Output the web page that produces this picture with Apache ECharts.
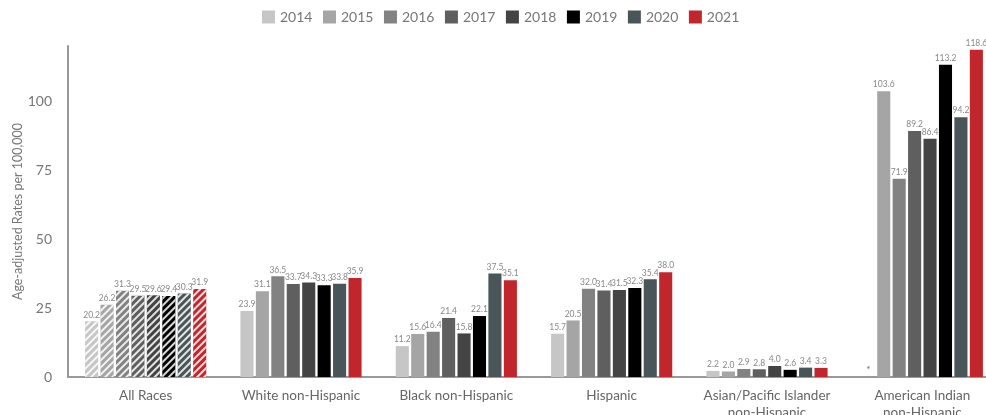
<!DOCTYPE html>
<html><head><meta charset="utf-8">
<script src="https://cdn.jsdelivr.net/npm/echarts@6/dist/echarts.min.js"></script>
<style>html,body{margin:0;padding:0;background:#fff}#c{width:986px;height:415px}</style>
</head><body><div id="c"></div>
<script>
const categories = ['All Races','White non-Hispanic','Black non-Hispanic','Hispanic','Asian/Pacific Islander\nnon-Hispanic','American Indian\nnon-Hispanic'];
const years = ['2014','2015','2016','2017','2018','2019','2020','2021'];
const v2014 = [20.2, 23.9, 11.2, 15.7, 2.2, null];
const v2015 = [26.2, 31.1, 15.6, 20.5, 2.0, 103.6];
const v2016 = [31.3, 36.5, 16.4, 32.0, 2.9, 71.9];
const v2017 = [29.5, 33.7, 21.4, 31.4, 2.8, 89.2];
const v2018 = [29.6, 34.3, 15.8, 31.5, 4.0, 86.4];
const v2019 = [29.4, 33.3, 22.1, 32.3, 2.6, 113.2];
const v2020 = [30.3, 33.8, 37.5, 35.4, 3.4, 94.2];
const v2021 = [31.9, 35.9, 35.1, 38.0, 3.3, 118.6];
const yTicks = [0, 25, 50, 75, 100];

const values = [v2014, v2015, v2016, v2017, v2018, v2019, v2020, v2021];
const colors = ['#c6c6c6','#a5a5a5','#828282','#5f5f5f','#444444','#000000','#4a5559','#c0262c'];
const font = 'Lato, "Open Sans", sans-serif';

const series = years.map((y, i) => ({
  name: y,
  type: 'bar',
  barGap: '18%',
  barCategoryGap: '22%',
  itemStyle: { color: colors[i] },
  label: {
    show: true, position: 'top', distance: 2,
    color: '#888', fontSize: 8.5, fontFamily: font,
    formatter: p => (p.value == null || p.value === 0) ? '*' : p.value.toFixed(1)
  },
  data: values[i].map((v, j) => {
    if (v == null) return { value: 0, label: { fontSize: 10, color: '#666' } };
    if (j === 0) return {
      value: v,
      itemStyle: {
        decal: {
          symbol: 'rect', color: 'rgba(255,255,255,0.85)',
          dashArrayX: [1, 0], dashArrayY: [1.6, 2.4], rotation: -Math.PI / 4
        }
      }
    };
    return v;
  })
}));

const chart = echarts.init(document.getElementById('c'));
chart.setOption({
  animation: false,
  aria: { enabled: false, decal: { show: true } },
  legend: {
    top: 5, left: 257, itemWidth: 13, itemHeight: 13, itemGap: 10.5,
    icon: 'rect',
    textStyle: { color: '#777', fontSize: 14, fontFamily: font }
  },
  grid: { left: 68, right: -14, top: 46, bottom: 38, outerBoundsMode: 'none', containLabel: false },
  xAxis: {
    type: 'category', data: categories,
    axisLine: { lineStyle: { color: '#999', width: 2 } },
    axisTick: { show: false },
    axisLabel: { color: '#666', fontSize: 13.5, fontFamily: font, margin: 10, lineHeight: 17, interval: 0 }
  },
  yAxis: {
    type: 'value', min: 0, max: 120, interval: 25,
    name: 'Age-adjusted Rates per 100,000', nameLocation: 'middle', nameGap: 44,
    nameMoveOverlap: false,
    nameTextStyle: { color: '#777', fontSize: 12.5, fontFamily: font },
    axisLine: { show: true, lineStyle: { color: '#999', width: 2 } },
    axisTick: { show: false },
    splitLine: { show: false },
    axisLabel: {
      color: '#777', fontSize: 14, fontFamily: font, margin: 16, showMaxLabel: false,
      formatter: v => yTicks.includes(v) ? String(v) : ''
    }
  },
  series
});
</script></body></html>
